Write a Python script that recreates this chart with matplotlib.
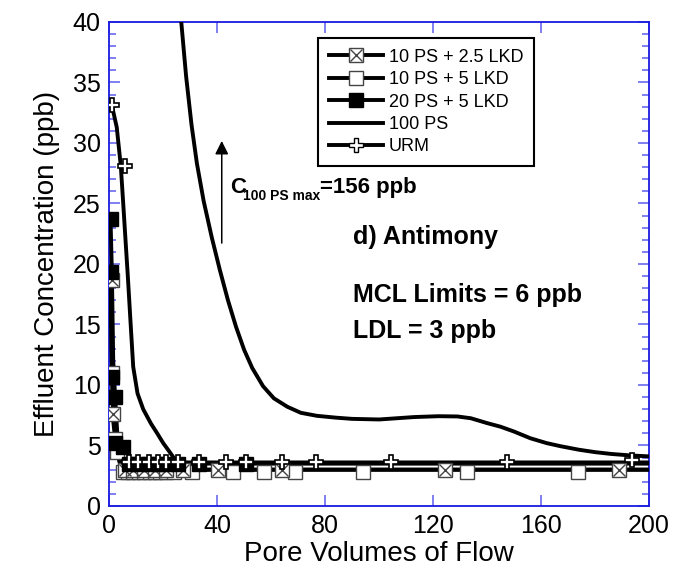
import numpy as np
import matplotlib.pyplot as plt
from matplotlib.lines import Line2D

plt.rcParams['font.family'] = ['Liberation Sans', 'DejaVu Sans']

# 100 PS (smooth curve, no markers)
pv_100ps = [26.7, 28.5, 30.5, 32.5, 35, 38, 41, 44, 47, 50, 53, 57, 61, 66, 71, 77, 84, 90, 100,
            113, 122, 129, 134, 140, 145, 150, 156, 162, 167, 174, 180, 186, 193, 200]
c_100ps = [40, 35.5, 31.5, 28.3, 25.2, 22.2, 19.5, 17.0, 14.8, 12.9, 11.4, 9.9, 8.9, 8.2, 7.7, 7.45, 7.3, 7.2, 7.15,
           7.35, 7.42, 7.4, 7.25, 6.85, 6.55, 6.15, 5.6, 5.2, 4.95, 4.65, 4.45, 4.3, 4.18, 4.1]

# URM fitted line and measured points
pv_urm_fit = [1, 2.8, 4.3, 5.2, 5.9, 6.9, 7.8, 8.9, 10.5, 12.6, 15.5, 17.8, 20, 22.6, 24.5, 27, 200]
c_urm_fit = [33.1, 31.3, 28.1, 25, 22.5, 19, 15.6, 11.5, 9.3, 8.0, 6.8, 6.0, 5.2, 4.4, 3.8, 3.6, 3.6]
pv_urm = [1.0, 5.9, 7.3, 10.8, 14.8, 18.0, 21.1, 25.4, 33.1, 43.4, 50.5, 64.1, 76.8, 104.3, 147.5, 193.6]
c_urm = [33.1, 28.1, 3.6, 3.6, 3.6, 3.6, 3.6, 3.6, 3.6, 3.6, 3.6, 3.6, 3.6, 3.6, 3.6, 3.8]

# 20 PS + 5 LKD
pv_20ps_fit = [0.5, 1, 1.5, 2.2, 3, 4, 5, 6, 200]
c_20ps_fit = [23.7, 19.3, 12, 9, 6, 4.5, 3.8, 3.5, 3.5]
pv_20ps = [0.6, 0.7, 1.0, 2.2, 2.2, 5.0, 7.3, 10.8, 14.8, 18.0, 21.1, 25.4, 33.1, 50.5]
c_20ps = [23.7, 19.3, 10.7, 9.0, 5.2, 4.9, 3.5, 3.5, 3.5, 3.5, 3.5, 3.5, 3.5, 3.5]

# 10 PS + 5 LKD
pv_10ps5_fit = [0.5, 1, 1.5, 2.5, 4, 5, 200]
c_10ps5_fit = [19, 11, 7, 5, 3.5, 3.0, 3.0]
pv_10ps5 = [1.0, 2.0, 3.0, 5, 7, 9, 11, 13, 15, 17, 19, 21, 24, 30.7, 45.8, 57.4, 68.8, 94.0, 132.4, 173.8]
c_10ps5 = [11, 5.5, 4.5, 2.85, 2.85, 2.85, 2.85, 2.85, 2.85, 2.85, 2.85, 2.85, 2.85, 2.85, 2.85, 2.85, 2.85,
           2.85, 2.85, 2.85]

# 10 PS + 2.5 LKD
pv_10ps25_fit = [0.5, 1, 1.5, 2.5, 4, 5, 200]
c_10ps25_fit = [18.7, 12, 7.6, 5.2, 3.5, 3.0, 3.0]
pv_10ps25 = [1.0, 1.4, 6, 9, 13, 17, 21, 27.5, 40.2, 64.1, 124.5, 188.9]
c_10ps25 = [18.7, 7.6, 3.0, 3.0, 3.0, 3.0, 3.0, 3.0, 3.0, 3.0, 3.0, 3.0]

fig = plt.figure(figsize=(6.74, 5.72), dpi=100)
ax = fig.add_axes([0.162, 0.1154, 0.801, 0.8462])

lw = 2.8
ms = 10
ax.plot(pv_100ps, c_100ps, color='black', lw=lw, zorder=3)
ax.plot(pv_10ps25_fit, c_10ps25_fit, color='black', lw=lw, zorder=3)
ax.plot(pv_10ps5_fit, c_10ps5_fit, color='black', lw=lw, zorder=3)
ax.plot(pv_20ps_fit, c_20ps_fit, color='black', lw=lw, zorder=3)
ax.plot(pv_urm_fit, c_urm_fit, color='black', lw=lw, zorder=3)

ax.plot(pv_10ps5, c_10ps5, ls='none', marker='s', ms=ms, mfc='white', mec='#444444', mew=1, zorder=4)
ax.plot(pv_10ps25, c_10ps25, ls='none', marker='s', ms=ms, mfc='white', mec='#444444', mew=1, zorder=5)
ax.plot(pv_10ps25, c_10ps25, ls='none', marker='x', ms=ms * 0.9, mec='#444444', mew=1, zorder=5)
ax.plot(pv_20ps, c_20ps, ls='none', marker='s', ms=ms, mfc='black', mec='black', zorder=6)
ax.plot(pv_urm, c_urm, ls='none', marker='P', ms=ms, mfc='white', mec='black', mew=1.2, zorder=7)

ax.set_xlim(0, 200)
ax.set_ylim(0, 40)
ax.set_xticks(np.arange(0, 201, 40))
ax.set_yticks(np.arange(0, 41, 5))
ax.set_yticks(np.arange(0, 41, 1), minor=True)

spine_c = '#1a1ae0'
tick_c = '#6a6af0'
for s in ax.spines.values():
    s.set_color(spine_c)
    s.set_linewidth(1.3)
ax.tick_params(which='both', direction='in', top=True, right=True, color=tick_c, width=1.2, labelsize=18)
ax.tick_params(which='major', length=8, pad=6)
ax.tick_params(which='minor', length=5)
ax.tick_params(axis='x', which='minor', bottom=False, top=False)

ax.set_xlabel('Pore Volumes of Flow', fontsize=20, labelpad=2)
ax.set_ylabel('Effluent Concentration (ppb)', fontsize=20, labelpad=9)

# annotations
ax.annotate('', xy=(41.7, 30.4), xytext=(41.7, 21.5),
            arrowprops=dict(arrowstyle='-|>', color='black', lw=1.1, mutation_scale=20))
ax.annotate('C', xy=(44.8, 25.87), fontsize=16, fontweight='bold', va='baseline', ha='left')
ax.annotate('100 PS max', xy=(44.8, 25.87), xytext=(9.5, -5), textcoords='offset points',
            fontsize=10, fontweight='bold', va='baseline', ha='left')
ax.annotate('=156 ppb', xy=(44.8, 25.87), xytext=(64.5, 0), textcoords='offset points',
            fontsize=16, fontweight='bold', va='baseline', ha='left')
ax.text(90.4, 22.2, 'd) Antimony', fontsize=18, fontweight='bold', va='center')
ax.text(90.4, 17.4, 'MCL Limits = 6 ppb', fontsize=18, fontweight='bold', va='center')
ax.text(90.4, 14.5, 'LDL = 3 ppb', fontsize=18, fontweight='bold', va='center')

handles = [
    (Line2D([], [], color='black', lw=lw, marker='s', ms=ms, mfc='white', mec='#444444'),
     Line2D([], [], ls='none', marker='x', ms=ms * 0.9, mec='#444444')),
    Line2D([], [], color='black', lw=lw, marker='s', ms=ms, mfc='white', mec='#444444'),
    Line2D([], [], color='black', lw=lw, marker='s', ms=ms, mfc='black', mec='black'),
    Line2D([], [], color='black', lw=lw),
    Line2D([], [], color='black', lw=lw, marker='P', ms=ms, mfc='white', mec='black'),
]
labels = ['10 PS + 2.5 LKD', '10 PS + 5 LKD', '20 PS + 5 LKD', '100 PS', 'URM']
leg = ax.legend(handles, labels, loc='upper left', bbox_to_anchor=(0.387, 0.967), borderaxespad=0,
                fontsize=13, handlelength=3.0, labelspacing=0.3, handletextpad=0.3, fancybox=False,
                edgecolor='black', framealpha=1, numpoints=1, borderpad=0.6)
leg.get_frame().set_linewidth(1.5)

plt.savefig('out.png', dpi=100)
